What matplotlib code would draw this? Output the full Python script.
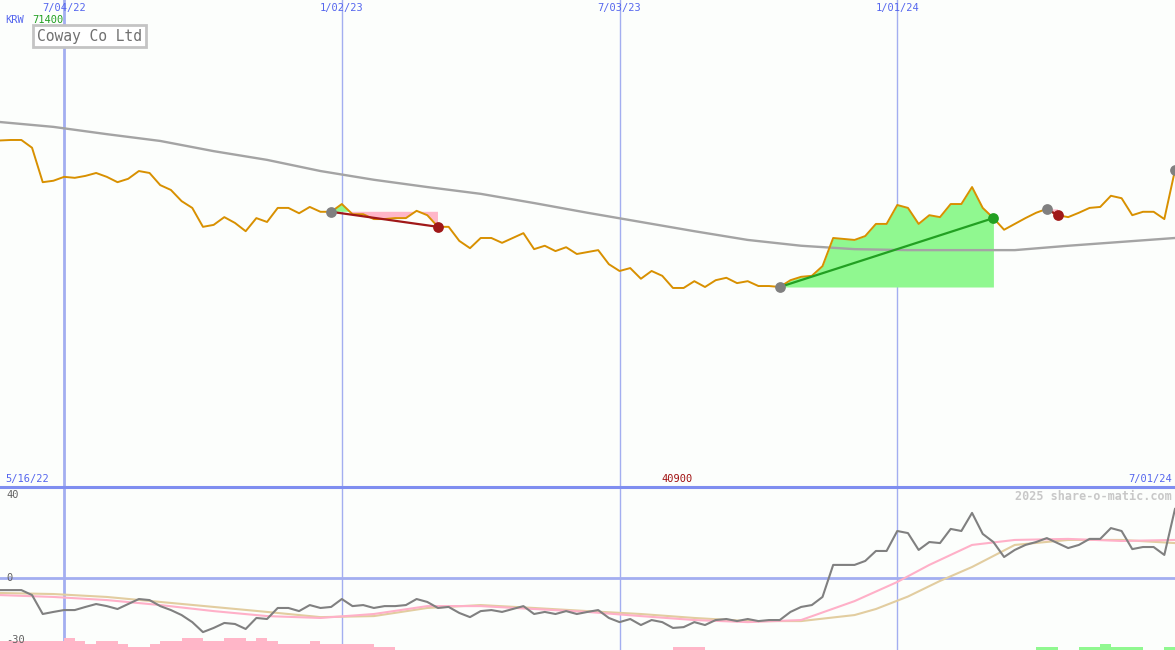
import matplotlib
matplotlib.use("Agg")
import matplotlib.pyplot as plt
from matplotlib.lines import Line2D
import numpy as np

# weekly closes (KRW), first week = 5/23/22
price = [71300, 71400, 71400, 69800, 62700, 63000, 63800, 63600, 64000, 64600,
         63800, 62700, 63400, 65000, 64600, 62100, 61100, 58800, 57400, 53500,
         53900, 55500, 54300, 52600, 55300, 54500, 57400, 57400, 56300, 57600,
         56600, 56600, 58200, 56100, 56100, 55100, 55100, 55300, 55300, 56800,
         55900, 53500, 53500, 50600, 49100, 51200, 51200, 50200, 51200, 52200,
         48900, 49600, 48500, 49300, 47900, 48300, 48700, 45800, 44400, 45000,
         42800, 44400, 43400, 40900, 40900, 42300, 41100, 42500, 43000, 41900,
         42300, 41300, 41300, 41100, 42500, 43200, 43400, 45400, 51200, 51000,
         50800, 51600, 54100, 54100, 58000, 57400, 54100, 55900, 55500, 58200,
         58200, 61700, 57400, 55300, 52900, 54100, 55300, 56400, 57200, 55900,
         55500, 56400, 57400, 57600, 59900, 59400, 55900, 56600, 56600, 55100,
         65200]

# long moving average, read every few weeks
ma_idx = [0, 5, 10, 15, 20, 25, 30, 35, 40, 45, 50, 55, 60, 65, 70, 75, 80, 85, 90, 95, 100, 105, 110]
ma_val = [75100, 74100, 72600, 71200, 69100, 67300, 65000, 63200, 61700, 60300, 58400, 56400,
          54500, 52600, 50800, 49600, 48900, 48700, 48700, 48700, 49600, 50400, 51200]

# oscillator (lower panel)
osc = [-5.8, -5.8, -5.8, -8.2, -17.3, -16.3, -15.4, -15.4, -13.9, -12.5,
       -13.5, -14.9, -12.5, -10.1, -10.6, -13.5, -15.4, -17.8, -21.2, -26.0,
       -24.0, -21.6, -22.1, -24.5, -19.2, -19.7, -14.4, -14.4, -15.9, -13.0,
       -14.4, -13.9, -10.1, -13.5, -13.0, -14.4, -13.5, -13.5, -13.0, -10.1,
       -11.5, -14.4, -13.9, -16.8, -18.8, -15.9, -15.4, -16.3, -14.9, -13.5,
       -17.3, -16.3, -17.3, -15.9, -17.3, -16.3, -15.4, -19.2, -21.2, -19.7,
       -22.6, -20.2, -21.2, -24.0, -23.6, -21.2, -22.6, -20.2, -19.7, -20.7,
       -19.7, -20.7, -20.2, -20.2, -16.3, -13.9, -13.0, -9.1, 6.3, 6.3,
       6.3, 8.2, 13.0, 13.0, 22.6, 21.6, 13.5, 17.3, 16.8, 23.6,
       22.6, 31.3, 21.2, 17.3, 10.1, 13.5, 15.9, 17.3, 19.2, 16.8,
       14.4, 15.9, 18.8, 18.8, 24.0, 22.6, 13.9, 14.9, 14.9, 11.1,
       33.2]

pink_idx = [0, 5, 10, 15, 20, 25, 30, 35, 40, 45, 50, 55, 60, 65, 70, 75, 80, 84, 87, 91, 95, 100, 105, 110]
pink_val = [-8.2, -9.1, -10.6, -13.0, -15.9, -18.3, -19.2, -17.3, -13.5, -13.5, -14.9, -16.3,
            -18.3, -20.2, -21.2, -20.2, -11.1, -1.9, 6.3, 15.9, 18.3, 18.8, 17.8, 18.3]

tan_idx = [0, 5, 10, 15, 20, 25, 30, 35, 40, 45, 50, 55, 60, 65, 70, 75, 80, 82, 85, 88, 91, 95, 100, 105, 110]
tan_val = [-7.2, -7.7, -9.1, -11.5, -13.9, -16.3, -18.8, -18.3, -14.4, -13.0, -14.4, -15.9,
           -17.3, -19.2, -20.7, -20.7, -17.8, -14.9, -8.9, -1.4, 5.3, 15.9, 18.3, 18.3, 16.8]

# trend histogram levels (negative = pink, positive = green)
trend = [-3, -3, -3, -3, -3, -3, -4, -3, -2, -3,
         -3, -2, -1, -1, -2, -3, -3, -4, -4, -3,
         -3, -4, -4, -3, -4, -3, -2, -2, -2, -3,
         -2, -2, -2, -2, -2, -1, -1, 0, 0, 0,
         0, 0, 0, 0, 0, 0, 0, 0, 0, 0,
         0, 0, 0, 0, 0, 0, 0, 0, 0, 0,
         0, 0, 0, -1, -1, -1, 0, 0, 0, 0,
         0, 0, 0, 0, 0, 0, 0, 0, 0, 0,
         0, 0, 0, 0, 0, 0, 0, 0, 0, 0,
         0, 0, 0, 0, 0, 0, 0, 1, 1, 0,
         0, 1, 1, 2, 1, 1, 1, 0, 0, 1,
         0]

entries = [31, 73, 98, 110]
exits = [41, 93, 99]

grid_idx = [6, 32, 58, 84]
grid_lbl = ["7/04/22", "1/02/23", "7/03/23", "1/01/24"]

bg = "#fcfefc"
blue = "#5566ee"
gridc = "#a3aef0"
mono = "DejaVu Sans Mono"

price = np.array(price)
x = np.arange(len(price))

fig = plt.figure(figsize=(11.75, 6.5), dpi=100)
fig.patch.set_facecolor(bg)
ax = fig.add_axes([0, 163 / 650, 1, 487 / 650])
ax2 = fig.add_axes([0, 0, 1, 163 / 650])
for a in (ax, ax2):
    a.set_facecolor(bg)
    a.set_xticks([])
    a.set_yticks([])
    for s in a.spines.values():
        s.set_visible(False)
    a.set_xlim(0, 110)
    for g in grid_idx:
        a.axvline(g, color=gridc, lw=2 if g == grid_idx[0] else 1, zorder=0)

ax.set_ylim(-120, 100250)
ax2.set_ylim(-34.6, 43.75)

# main panel
ax.plot(ma_idx, ma_val, color="#a4a4a4", lw=1.7, zorder=2)

for e, xo in zip(entries, exits):
    seg = x[e:xo + 1]
    p = price[e:xo + 1]
    lvl = price[e]
    ax.fill_between(seg, p, lvl, where=p >= lvl, interpolate=True, color="#90f890", lw=0, zorder=1)
    ax.fill_between(seg, p, lvl, where=p <= lvl, interpolate=True, color="#ffb6c8", lw=0, zorder=1)

ax.plot(x, price, color="#d89000", lw=1.4, zorder=3)

for e, xo in zip(entries, exits):
    c = "#22a022" if price[xo] > price[e] else "#a01818"
    ax.plot([e, xo], [price[e], price[xo]], color=c, lw=1.6, zorder=4)
    ax.scatter([xo], [price[xo]], s=60, color=c, zorder=6, lw=0)
ax.scatter(entries, price[entries], s=60, color="#808080", zorder=5, lw=0)

tr = ax.get_xaxis_transform()
for g, lbl in zip(grid_idx, grid_lbl):
    ax.text(g, 1 - 8 / 487, lbl, transform=tr, ha="center", va="center",
            color=blue, fontsize=7.5, family=mono)

ax.text(5 / 1175, 1 - 20 / 487, "KRW", transform=ax.transAxes, ha="left", va="center",
        color=blue, fontsize=7.5, family=mono)
ax.text(32 / 1175, 1 - 20 / 487, "%d" % price.max(), transform=ax.transAxes, ha="left",
        va="center", color="#22a022", fontsize=7.5, family=mono)
ax.text(37 / 1175, 1 - 36 / 487, "Coway Co Ltd", transform=ax.transAxes, ha="left", va="center",
        color="#707070", fontsize=10.5, family=mono,
        bbox=dict(boxstyle="square,pad=0.25", fc="white", ec="#c4c4c4", lw=2))

ax.text(5 / 1175, 8 / 487, "5/16/22", transform=ax.transAxes, ha="left", va="center",
        color=blue, fontsize=7.5, family=mono)
ax.text(int(np.argmin(price)) + 0.4, 8 / 487, "%d" % price.min(), transform=tr, ha="center",
        va="center", color="#a01010", fontsize=7.5, family=mono)
ax.text(1 - 3 / 1175, 8 / 487, "7/01/24", transform=ax.transAxes, ha="right", va="center",
        color=blue, fontsize=7.5, family=mono)

# lower panel
ax2.axhline(0, color=gridc, lw=2, zorder=0)
trend = np.array(trend)
unit = 1.47
bot = -34.6
neg = np.where(trend < 0, -trend * unit, 0)
pos = np.where(trend > 0, trend * unit, 0)
ax2.bar(x, neg, width=1, align="edge", bottom=bot, color="#ffb6c8", lw=0, zorder=1)
ax2.bar(x, pos, width=1, align="edge", bottom=bot, color="#90f890", lw=0, zorder=1)

ax2.plot(tan_idx, tan_val, color="#e2cda0", lw=1.5, zorder=2)
ax2.plot(pink_idx, pink_val, color="#ffb0c8", lw=1.5, zorder=2)
ax2.plot(x, osc, color="#808080", lw=1.5, zorder=3)

for v in (40, 0, -30):
    ax2.text(6 / 1175, v, str(v), transform=ax2.get_yaxis_transform(), ha="left",
             va="center", color="#606060", fontsize=7.5, family=mono)
ax2.text(1 - 3 / 1175, 1 - 9 / 163, "2025 share-o-matic.com", transform=ax2.transAxes,
         ha="right", va="center", color="#c8c8c8", fontsize=8.5, family=mono, weight="bold")

fig.add_artist(Line2D([0, 1], [163 / 650, 163 / 650], transform=fig.transFigure,
                      color="#7f8ef0", lw=2.2))

fig.savefig("out.png", dpi=100, facecolor=bg)
